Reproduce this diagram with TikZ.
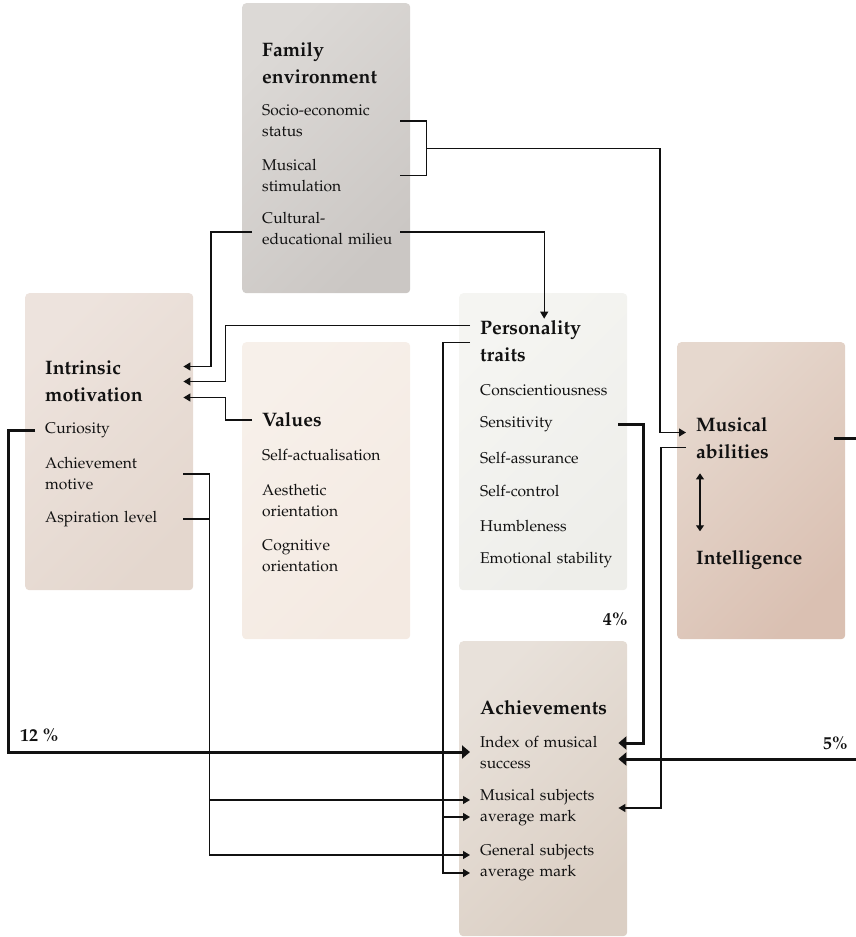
\documentclass[tikz,border=0pt]{standalone}
\usepackage[T1]{fontenc}
\usepackage{mathpazo}
\usepackage{xcolor}
\usepackage{tikz}
\usetikzlibrary{positioning,calc,arrows.meta}

\definecolor{famA}{HTML}{DCD9D6}
\definecolor{famB}{HTML}{CBC7C4}
\definecolor{imA}{HTML}{EDE3DD}
\definecolor{imB}{HTML}{E4D7CE}
\definecolor{valA}{HTML}{F7F0EA}
\definecolor{valB}{HTML}{F4EAE2}
\definecolor{ptA}{HTML}{F5F5F2}
\definecolor{ptB}{HTML}{EEEEEA}
\definecolor{maA}{HTML}{E6D8CE}
\definecolor{maB}{HTML}{DAC0B2}
\definecolor{achA}{HTML}{E8E1DA}
\definecolor{achB}{HTML}{DBCFC4}
\definecolor{ink}{HTML}{111111}

\begin{document}
\begin{tikzpicture}[x=1pt, y=1pt,
    panel/.style={draw=none, rounded corners=4pt, anchor=north west, minimum width=168pt, inner sep=0pt},
    head/.style={anchor=west, align=left, text width=128pt, inner xsep=10pt, inner ysep=2pt, text=ink, font=\fontsize{19.5}{27}\selectfont\bfseries},
    item/.style={anchor=west, align=left, text width=128pt, inner xsep=10pt, inner ysep=2pt, text=ink, font=\fontsize{15.6}{21}\selectfont},
    wire/.style={draw=ink, line width=1.2pt},
    thinarrow/.style={wire, -{Triangle[length=7pt,width=8pt]}},
    heavy/.style={draw=ink, line width=3pt, -{Triangle[length=8pt,width=13pt]}},
    pct/.style={inner sep=0pt, text=ink, font=\fontsize{18}{20}\selectfont\bfseries}]

    \useasboundingbox (0,0) rectangle (855,-937);

    % Panels
    \node[panel, top color=famA, bottom color=famB, shading angle=45, minimum height=290pt] (famBox) at (242,-3) {};
    \node[panel, top color=imA, bottom color=imB, shading angle=45, minimum height=297pt] (imBox) at (25,-293) {};
    \node[panel, top color=valA, bottom color=valB, shading angle=45, minimum height=297pt] (valBox) at (242,-342) {};
    \node[panel, top color=ptA, bottom color=ptB, shading angle=45, minimum height=297pt] (ptBox) at (459,-293) {};
    \node[panel, top color=maA, bottom color=maB, shading angle=45, minimum height=297pt] (maBox) at (677,-342) {};
    \node[panel, top color=achA, bottom color=achB, shading angle=45, minimum height=295pt] (achBox) at (459,-641) {};

    % Family environment
    \node[head] (famT) at (252,-63.5) {Family\\environment};
    \node[item] (ses) at (252,-121) {Socio-economic\\status};
    \node[item] (stim) at (252,-175.5) {Musical\\stimulation};
    \node[item] (cem) at (252,-229) {Cultural-\\\mbox{educational milieu}};

    % Intrinsic motivation
    \node[head] (imT) at (35,-381.5) {Intrinsic\\motivation};
    \node[item] (cur) at (35,-430) {Curiosity};
    \node[item] (achm) at (35,-474) {Achievement\\motive};
    \node[item] (asp) at (35,-519) {Aspiration level};

    % Values
    \node[head] (vT) at (252,-420) {Values};
    \node[item] (sa) at (252,-455) {Self-actualisation};
    \node[item] (aes) at (252,-500.5) {Aesthetic\\orientation};
    \node[item] (cog) at (252,-555.5) {Cognitive\\orientation};

    % Personality traits
    \node[head] (ptT) at (470,-341.5) {Personality\\traits};
    \node[item] (consc) at (470,-390) {Conscientiousness};
    \node[item] (sens) at (470,-424) {Sensitivity};
    \node[item] (sass) at (470,-458) {Self-assurance};
    \node[item] (sctl) at (470,-491) {Self-control};
    \node[item] (humb) at (470,-526) {Humbleness};
    \node[item] (emo) at (470,-560) {\mbox{Emotional stability}};

    % Musical abilities
    \node[head] (maT) at (686,-438.5) {Musical\\abilities};
    \node[head] (intel) at (686,-560) {Intelligence};
    \draw[wire, {Triangle[length=6pt,width=8pt]}-{Triangle[length=6pt,width=8pt]}]
        ([xshift=14pt,yshift=-12pt]maT.south west) -- ([xshift=14pt,yshift=17pt]intel.north west);

    % Achievements
    \node[head] (achT) at (470,-708) {Achievements};
    \node[item] (idx) at (470,-753) {Index of musical\\success};
    \node[item] (msub) at (470,-808) {Musical subjects\\average mark};
    \node[item] (gsub) at (470,-863) {General subjects\\average mark};

    % Percentages
    \node[pct, anchor=west] (p12) at (20,-735) {12 \%};
    \node[pct, anchor=east] (p4) at (628,-619) {4\%};
    \node[pct, anchor=east] (p5) at (848,-743) {5\%};

    % Family environment links
    \draw[wire] (ses.east) -- ++(26,0) |- (stim.east);
    \coordinate (brk) at ($(ses.east)!0.5!(stim.east)+(26,0)$);
    \draw[thinarrow] (brk) -| ($(maT.west)+(-26,6)$) -- ([yshift=6]maT.west);
    \draw[thinarrow] ([yshift=-3]cem.east) -| (ptT.north);
    \draw[thinarrow] ([yshift=-3]cem.west) -- ++(-41,0) |- ([yshift=15]imT.east);

    % Personality and values links
    \draw[thinarrow] ([yshift=16]ptT.west) -| ($(imT.east)+(42,0)$) -- (imT.east);
    \draw[thinarrow] (vT.west) -| ($(imT.east)+(42,-16)$) -- ([yshift=-16]imT.east);
    \draw[thinarrow] ([yshift=-1]ptT.west) -| ($(gsub.west)+(-27,-10)$) -- ([yshift=-10]gsub.west);
    \draw[thinarrow] ($(msub.west)+(-27,-9)$) -- ([yshift=-9]msub.west);

    % Intrinsic motivation links
    \draw[thinarrow] (achm.east) -- ++(26,0) |- ([yshift=8]gsub.west);
    \draw[wire] (asp.east) -- ++(26,0);
    \draw[thinarrow] ($(msub.west)+(-261,8)$) -- ([yshift=8]msub.west);

    % Musical abilities links
    \draw[thinarrow] ([yshift=-9]maT.west) -- ++(-25,0) |- (msub.east);

    % Strong links
    \draw[heavy] (cur.west) -- ++(-27,0) |- ([yshift=1]idx.west);
    \draw[heavy] (sens.east) -- ++(25,0) |- ([yshift=10]idx.east);
    \draw[heavy] (maT.east) -- ++(40,0) |- ([yshift=-6]idx.east);
\end{tikzpicture}
\end{document}
